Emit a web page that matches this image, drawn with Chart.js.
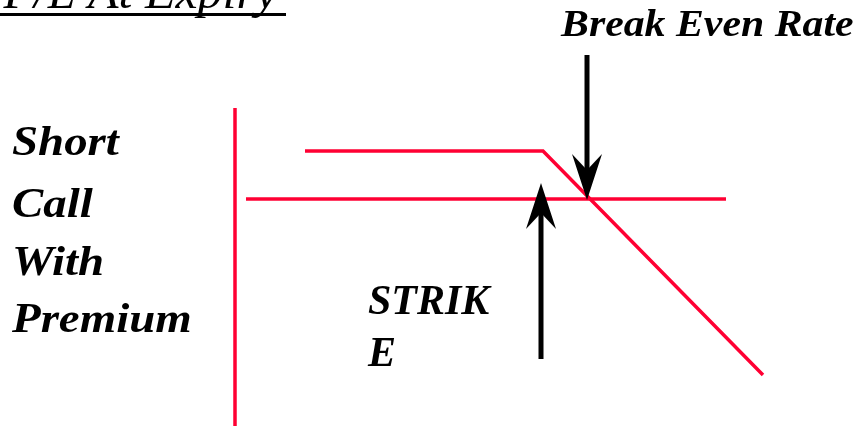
<!DOCTYPE html>
<html>
<head>
<meta charset="utf-8">
<script src="https://cdn.jsdelivr.net/npm/chart.js@4.4.1/dist/chart.umd.min.js"></script>
<style>
  html, body { margin: 0; padding: 0; background: #fff; }
  #wrap { width: 862px; height: 426px; }
</style>
</head>
<body>
<div id="wrap"><canvas id="diagram"></canvas></div>
<script>
// diagram coordinates (x: rate, y: P/L, downwards)
const plAxis = [{ x: 235, y: 108 }, { x: 235, y: 426 }];
const strikeLine = [{ x: 246, y: 199 }, { x: 726, y: 199 }];
const payoff = [{ x: 305, y: 151 }, { x: 543, y: 151 }, { x: 763, y: 375 }];

// arrows: [from, to]
const breakEvenArrow = [{ x: 587, y: 55 }, { x: 587, y: 200 }];
const strikeArrow = [{ x: 541, y: 359 }, { x: 541, y: 183 }];

const titleText = "P/L At Expiry";
const sideLabel = ["Short", "Call", "With", "Premium"];
const strikeLabel = ["STRIK", "E"];
const breakEvenLabel = "Break Even Rate";

const RED = "#ff0033";
const SERIF = "'Liberation Serif', 'Times New Roman', serif";

function arrowHead(ctx, tip, dir) {
  // dir = -1 arrow points up, 1 arrow points down
  const len = 46, half = 15, notch = 30;
  ctx.beginPath();
  ctx.moveTo(tip.x, tip.y);
  ctx.lineTo(tip.x - half, tip.y - dir * len);
  ctx.lineTo(tip.x, tip.y - dir * notch);
  ctx.lineTo(tip.x + half, tip.y - dir * len);
  ctx.closePath();
  ctx.fill();
}

// text drawn with a horizontal stretch, like the original slide
function wideText(ctx, text, x, y, sx) {
  ctx.save();
  ctx.translate(x, y);
  ctx.scale(sx, 1);
  ctx.fillText(text, 0, 0);
  ctx.restore();
}

const decorations = {
  id: "decorations",
  afterDatasetsDraw(chart) {
    const { ctx, scales } = chart;
    const px = p => ({ x: scales.x.getPixelForValue(p.x), y: scales.y.getPixelForValue(p.y) });
    ctx.save();

    // arrows
    ctx.fillStyle = "#000";
    ctx.strokeStyle = "#000";
    ctx.lineWidth = 5;
    [breakEvenArrow, strikeArrow].forEach(a => {
      const from = px(a[0]), to = px(a[1]);
      const dir = to.y > from.y ? 1 : -1;
      ctx.beginPath();
      ctx.moveTo(from.x, from.y);
      ctx.lineTo(to.x, to.y - dir * 25);
      ctx.stroke();
      arrowHead(ctx, to, dir);
    });

    // title (cut off at top)
    ctx.textBaseline = "alphabetic";
    ctx.textAlign = "right";
    ctx.font = "italic 48px " + SERIF;
    wideText(ctx, titleText, 278, 8, 1.04);
    ctx.fillRect(0, 13, 286, 3);

    ctx.textAlign = "left";
    ctx.font = "italic bold 43px " + SERIF;
    const sideBase = [155, 217, 275, 332];
    sideLabel.forEach((t, i) => wideText(ctx, t, 12, sideBase[i], 1.09));

    ctx.font = "italic bold 42px " + SERIF;
    ctx.fillText(strikeLabel[0], 368, 314);
    ctx.fillText(strikeLabel[1], 368, 366);

    ctx.font = "italic bold 38px " + SERIF;
    wideText(ctx, breakEvenLabel, 561, 36, 1.1);
    ctx.restore();
  }
};

new Chart(document.getElementById("diagram"), {
  type: "scatter",
  data: {
    datasets: [
      { data: plAxis },
      { data: strikeLine },
      { data: payoff },
    ].map(d => ({
      ...d,
      showLine: true,
      borderColor: RED,
      borderWidth: 3.5,
      pointRadius: 0,
      borderCapStyle: "butt",
      borderJoinStyle: "miter",
      tension: 0,
    })),
  },
  options: {
    responsive: true,
    maintainAspectRatio: false,
    animation: false,
    layout: { padding: 0 },
    plugins: { legend: { display: false }, tooltip: { enabled: false } },
    scales: {
      x: { type: "linear", min: 0, max: 862, display: false },
      y: { type: "linear", min: 0, max: 426, reverse: true, display: false },
    },
  },
  plugins: [decorations],
});
</script>
</body>
</html>
